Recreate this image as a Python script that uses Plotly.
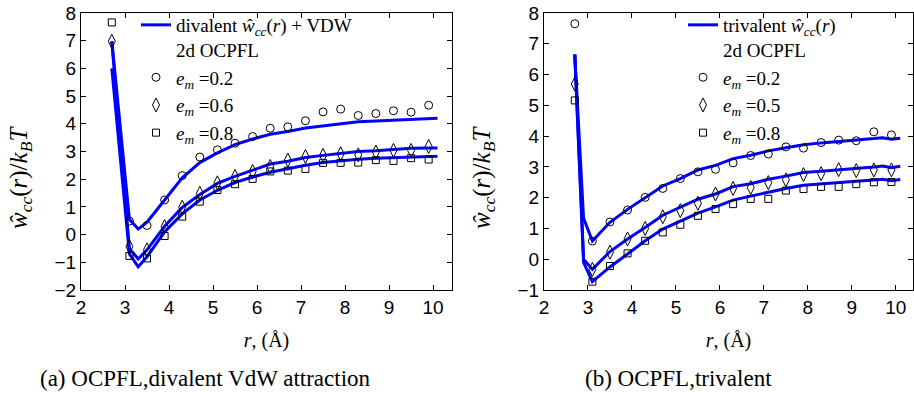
import plotly.graph_objects as go

# ---------------- data ----------------
r_pts = [2.7, 3.1, 3.5, 3.9, 4.3, 4.7, 5.1, 5.5, 5.9, 6.3, 6.7, 7.1, 7.5, 7.9, 8.3, 8.7, 9.1, 9.5, 9.9]

# (a) divalent + VdW
div_em02 = [None, 0.49, 0.33, 1.25, 2.13, 2.80, 3.06, 3.30, 3.54, 3.84, 3.89, 4.11, 4.43, 4.53, 4.30, 4.37, 4.47, 4.42, 4.67]
div_em06 = [6.98, -0.43, -0.55, 0.29, 0.99, 1.49, 1.87, 2.10, 2.28, 2.46, 2.69, 2.82, 2.86, 2.92, 2.88, 2.98, 3.04, 3.04, 3.18]
div_em08 = [7.66, -0.77, -0.86, -0.05, 0.65, 1.19, 1.61, 1.82, 2.01, 2.28, 2.31, 2.37, 2.59, 2.59, 2.60, 2.69, 2.66, 2.76, 2.71]

r_line_div = [2.7, 3.1, 3.3, 3.5, 3.9, 4.3, 4.7, 5.1, 5.5, 5.9, 6.3, 6.7, 7.1, 7.5, 7.9, 8.3, 8.7, 9.1, 9.5, 9.9, 10.1]
div_line02 = [6.98, 0.55, 0.20, 0.45, 1.25, 2.05, 2.60, 2.95, 3.25, 3.45, 3.62, 3.72, 3.85, 3.92, 4.00, 4.07, 4.10, 4.13, 4.18, 4.20, 4.20]
div_line06 = [6.98, -0.50, -0.88, -0.55, 0.30, 0.98, 1.45, 1.85, 2.10, 2.33, 2.55, 2.65, 2.78, 2.86, 2.93, 3.00, 3.03, 3.07, 3.12, 3.13, 3.13]
div_line08 = [6.00, -0.70, -1.16, -0.80, 0.10, 0.75, 1.25, 1.60, 1.88, 2.08, 2.25, 2.38, 2.50, 2.60, 2.67, 2.72, 2.76, 2.78, 2.80, 2.82, 2.83]

# (b) trivalent
tri_em02 = [7.65, 0.59, 1.21, 1.60, 2.01, 2.30, 2.62, 2.84, 2.92, 3.13, 3.37, 3.42, 3.65, 3.61, 3.79, 3.87, 3.85, 4.14, 4.04]
tri_em05 = [5.69, -0.33, 0.23, 0.66, 1.00, 1.38, 1.58, 1.82, 2.12, 2.30, 2.33, 2.49, 2.58, 2.75, 2.78, 2.91, 2.88, 2.90, 2.90]
tri_em08 = [5.16, -0.73, -0.22, 0.19, 0.60, 0.87, 1.12, 1.41, 1.63, 1.79, 1.96, 1.96, 2.23, 2.28, 2.35, 2.35, 2.44, 2.50, 2.51]

r_line_tri = [2.7, 2.9, 3.1, 3.5, 3.9, 4.3, 4.7, 5.1, 5.5, 5.9, 6.3, 6.7, 7.1, 7.5, 7.9, 8.3, 8.7, 9.1, 9.5, 9.7, 9.9, 10.1]
tri_line02 = [6.65, 1.33, 0.59, 1.20, 1.62, 2.00, 2.38, 2.62, 2.90, 3.05, 3.27, 3.38, 3.52, 3.62, 3.72, 3.78, 3.82, 3.86, 3.92, 3.95, 3.90, 3.93]
tri_line05 = [6.65, 0.00, -0.33, 0.25, 0.66, 1.03, 1.43, 1.68, 1.95, 2.12, 2.36, 2.45, 2.60, 2.70, 2.82, 2.86, 2.90, 2.95, 3.00, 3.03, 2.97, 3.02]
tri_line08 = [6.65, -0.10, -0.73, -0.25, 0.17, 0.60, 0.98, 1.25, 1.50, 1.70, 1.92, 2.05, 2.18, 2.30, 2.40, 2.45, 2.50, 2.53, 2.57, 2.60, 2.55, 2.59]

# ---------------- styling ----------------
BLUE = "#0000FF"
SERIF = "Liberation Serif, Times New Roman, serif"
SANS = "Liberation Sans, Arial, sans-serif"
W, H = 914, 401
ML, MR, MT, MB = 81, 1, 13, 111
PW, PH = W - ML - MR, H - MT - MB

def px_x(p):
    return (p - ML) / PW

def px_y(p):
    return (H - MB - p) / PH

fig = go.Figure()

def add_panel(xa, ya, leg, label, r_line, lines, markers):
    for i, yl in enumerate(lines):
        fig.add_trace(go.Scatter(
            x=r_line, y=yl, mode="lines", xaxis=xa, yaxis=ya,
            line=dict(color=BLUE, width=3),
            name=label, showlegend=(i == 0), legend=leg, hoverinfo="skip"))
    for name, sym, size, yv in markers:
        fig.add_trace(go.Scatter(
            x=r_pts, y=yv, mode="markers", xaxis=xa, yaxis=ya,
            marker=dict(symbol=sym, size=size, color="black",
                        line=dict(color="black", width=1)),
            name=name, legend=leg))

em = "<i>e</i><sub><i>m</i></sub> =0."
add_panel("x", "y", "legend",
          "divalent <i>ŵ</i><sub><i>cc</i></sub>(<i>r</i>) + VDW<br>2d OCPFL",
          r_line_div, [div_line02, div_line06, div_line08],
          [(em + "2", "circle-open", 8, div_em02),
           (em + "6", "diamond-tall-open", 10, div_em06),
           (em + "8", "square-open", 7, div_em08)])
add_panel("x2", "y2", "legend2",
          "trivalent <i>ŵ</i><sub><i>cc</i></sub>(<i>r</i>)<br>2d OCPFL",
          r_line_tri, [tri_line02, tri_line05, tri_line08],
          [(em + "2", "circle-open", 8, tri_em02),
           (em + "5", "diamond-tall-open", 10, tri_em05),
           (em + "8", "square-open", 7, tri_em08)])

axis_common = dict(showline=True, linecolor="black", linewidth=1, mirror="ticks",
                   ticks="inside", ticklen=5, tickcolor="black", tickwidth=1,
                   showgrid=False, zeroline=False,
                   tickfont=dict(family=SANS, size=19, color="black"))

xtitle = dict(text="<i>r</i>, (Å)", font=dict(family=SERIF, size=20, color="black"), standoff=16)

LEGFONT = dict(family=SERIF, size=19, color="black")
fig.update_layout(
    width=W, height=H,
    margin=dict(l=ML, r=MR, t=MT, b=MB, autoexpand=False),
    paper_bgcolor="white", plot_bgcolor="white",
    xaxis=dict(domain=[0, px_x(452)], range=[2, 10.43], dtick=1, anchor="y",
               title=xtitle, **axis_common),
    yaxis=dict(domain=[0, 1], range=[-2, 8], dtick=1, anchor="x", **axis_common),
    xaxis2=dict(domain=[px_x(544), 1], range=[2, 10.39], dtick=1, anchor="y2",
                title=xtitle, **axis_common),
    yaxis2=dict(domain=[0, 1], range=[-1, 8], dtick=1, anchor="x2", **axis_common),
    legend=dict(x=px_x(136), y=px_y(6), xanchor="left", yanchor="top",
                bgcolor="rgba(0,0,0,0)", borderwidth=0, valign="top",
                font=LEGFONT, tracegroupgap=0),
    legend2=dict(x=px_x(683), y=px_y(6), xanchor="left", yanchor="top",
                 bgcolor="rgba(0,0,0,0)", borderwidth=0, valign="top",
                 font=LEGFONT, tracegroupgap=0),
    showlegend=True,
)

ytitle = "<i>ŵ</i><sub><i>cc</i></sub>(<i>r</i>)/<i>k</i><sub><i>B</i></sub><i>T</i>"
for xp in (20, 483):
    fig.add_annotation(text=ytitle, x=px_x(xp), y=px_y(178), xref="paper", yref="paper",
                       textangle=-90, showarrow=False, xanchor="center", yanchor="middle",
                       font=dict(family=SERIF, size=25, color="black"))

for txt, xp in (("(a) OCPFL,divalent VdW attraction", 205), ("(b) OCPFL,trivalent", 678)):
    fig.add_annotation(text=txt, x=px_x(xp), y=px_y(378), xref="paper", yref="paper",
                       showarrow=False, xanchor="center", yanchor="middle",
                       font=dict(family=SERIF, size=23, color="black"))

fig.write_html("out.html")
